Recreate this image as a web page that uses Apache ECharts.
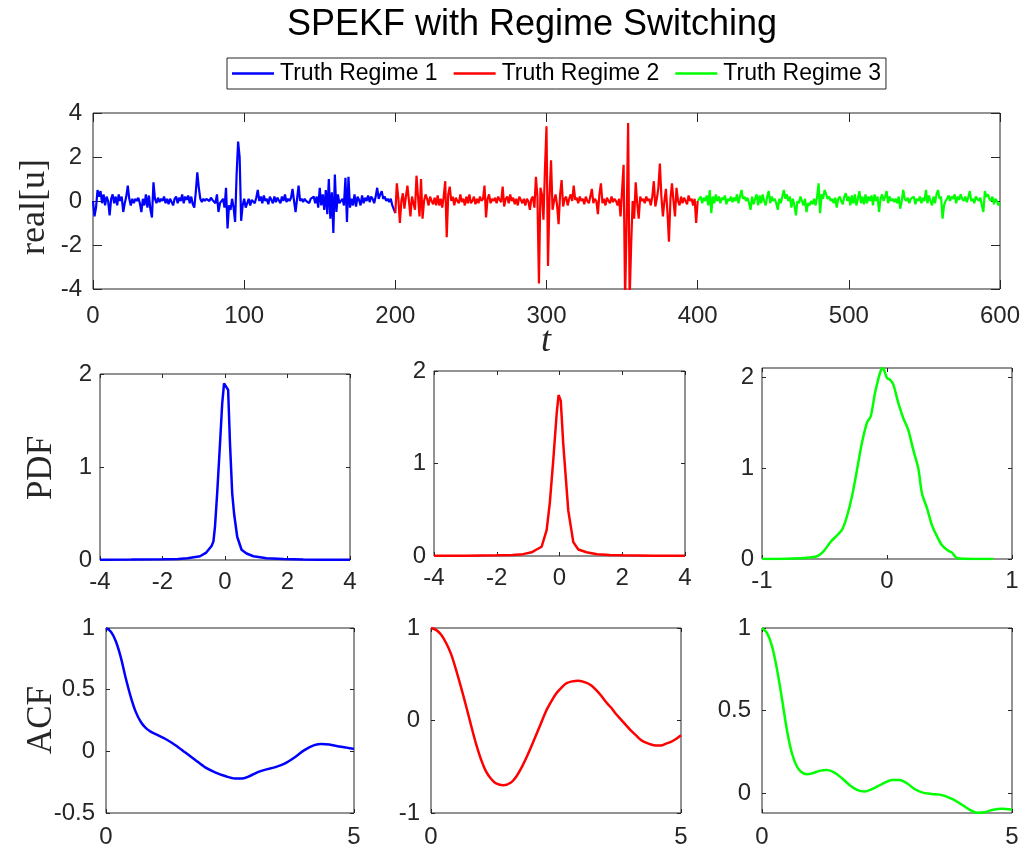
<!DOCTYPE html>
<html><head><meta charset="utf-8">
<script src="https://cdn.jsdelivr.net/npm/echarts@6/dist/echarts.min.js"></script>
<style>html,body{margin:0;padding:0;background:#fff}#c{width:1024px;height:852px}</style>
</head><body><div id="c"></div>
<script>
// ---- Data ----
const titleText = 'SPEKF with Regime Switching';
const legendNames = ['Truth Regime 1', 'Truth Regime 2', 'Truth Regime 3'];
const regimeStart = [0, 200, 400];
const regime1 = [
 0.0,-0.7,-0.3,0.5,0.2,0.45,-0.1,0.3,-0.2,0.2,
 0.0,-0.65,0.1,0.3,-0.1,0.2,-0.2,0.3,0.0,0.2,
 -0.5,-0.1,0.2,0.7,0.1,-0.2,0.1,-0.1,0.1,0.0,
 0.15,-0.1,-0.5,0.1,-0.2,0.3,-0.3,0.25,-0.4,-0.75,
 0.85,0.1,-0.1,0.15,-0.05,0.1,0.0,0.2,-0.1,0.1,
 -0.15,0.1,0.05,-0.2,0.1,0.2,-0.1,0.15,0.0,0.3,
 -0.1,0.2,0.05,0.25,-0.1,0.2,-0.15,-0.3,0.4,1.3,
 0.6,0.1,-0.05,0.1,0.0,0.1,0.05,0.0,0.15,0.05,
 0.1,-0.1,0.3,-0.5,-0.1,0.0,0.1,-0.3,0.6,-1.25,
 -0.2,-0.4,0.1,-0.3,-0.95,1.2,2.7,2.0,-0.9,-0.2,
 0.1,-0.3,-0.25,0.1,-0.2,0.05,0.1,-0.1,0.15,0.5,
 0.0,0.2,-0.1,0.25,0.0,0.1,-0.15,0.2,0.05,-0.1,
 0.2,-0.05,0.15,0.1,-0.1,0.2,0.0,0.3,-0.05,0.1,
 0.0,0.15,0.55,0.0,-0.5,0.1,0.7,0.0,0.1,-0.05,
 0.1,0.0,0.05,-0.1,0.1,0.05,0.2,-0.1,0.2,-0.3,
 0.6,-0.2,0.3,-0.4,0.5,-0.6,1.0,-0.8,0.4,-1.45,
 1.2,-0.5,0.3,-0.1,0.0,0.1,-0.2,1.05,-0.95,1.1,
 -0.3,0.1,-0.2,0.3,-0.25,0.2,0.05,-0.2,0.25,-0.1,
 0.15,0.0,0.25,-0.05,0.2,0.1,-0.1,0.2,0.6,0.1,
 0.3,0.45,0.1,0.2,0.0,0.1,-0.05,0.1,-0.2,-0.2,
 -0.55
];
const regime2 = [
 -0.55,0.8,0.1,-1.0,0.0,0.35,-0.35,0.2,0.7,0.0,
 -0.7,0.2,-0.1,-0.4,1.15,0.2,-0.7,1.0,-0.8,0.0,
 0.3,0.1,-0.2,0.2,0.0,-0.15,0.15,-0.2,0.25,-0.2,
 0.1,-0.3,0.2,0.9,-1.65,0.3,0.65,0.0,0.2,-0.2,
 0.15,0.0,-0.1,0.3,-0.05,0.1,-0.2,0.2,-0.1,0.3,
 -0.1,0.0,0.2,-0.15,0.1,-0.1,0.2,0.0,0.1,0.7,
 -0.75,0.1,0.3,-0.1,0.1,0.0,0.15,-0.1,0.2,0.05,
 -0.05,0.65,-0.25,0.1,0.2,-0.1,0.3,0.0,0.15,-0.15,
 0.1,-0.2,0.2,0.05,-0.1,0.1,-0.2,0.1,0.0,-0.4,
 0.1,0.2,-0.3,1.1,0.2,-3.75,0.6,0.3,-0.85,1.5,
 3.4,-2.95,0.2,1.85,-0.4,0.0,0.3,-0.2,-1.05,0.3,
 0.95,-0.25,0.1,0.2,-0.2,0.1,0.3,0.0,0.7,0.05,
 0.15,-0.1,0.2,0.0,0.1,-0.15,0.2,0.0,-0.1,0.2,
 0.55,-0.1,0.1,0.0,-0.6,0.3,0.8,-0.1,0.1,-0.2,
 0.15,0.0,-0.1,0.2,-0.05,0.1,0.0,-0.2,0.1,-0.7,
 0.5,1.65,-4.5,-1.0,3.55,-4.5,-2.0,0.0,-0.8,0.85,
 -0.1,-0.8,0.2,0.0,0.1,-0.1,0.2,0.0,0.1,-0.2,
 0.2,0.9,-0.25,0.1,0.6,1.7,0.2,-0.7,0.0,0.55,
 -0.5,-1.85,0.1,0.8,0.0,-0.7,0.6,0.0,-0.2,0.2,
 -0.1,0.15,0.1,-0.15,0.25,0.0,0.1,-0.2,0.1,-1.0,
 0.0
];
const regime3 = [
 0.0,0.1,0.2,-0.1,0.15,0.0,0.25,-0.2,0.5,-0.55,
 0.2,-0.1,0.3,0.0,0.2,-0.1,0.15,0.05,0.25,-0.15,
 0.1,0.0,0.2,-0.05,0.15,0.0,0.3,-0.1,0.2,0.5,
 0.1,0.2,0.0,0.15,-0.1,-0.4,0.2,-0.15,0.1,0.3,
 -0.2,0.25,-0.1,0.3,0.0,-0.2,0.2,0.45,-0.1,0.2,
 0.0,0.1,-0.1,-0.4,0.1,-0.1,0.2,0.5,0.1,0.3,
 0.0,0.2,-0.3,0.1,-0.2,-0.65,0.0,-0.1,0.2,0.0,
 -0.2,0.1,-0.5,-0.1,-0.2,0.0,-0.15,0.1,-0.2,0.2,
 0.8,-0.55,0.3,0.1,0.5,0.3,0.1,0.2,0.0,0.1,
 -0.1,0.15,-0.3,0.1,0.2,0.0,-0.15,0.2,0.35,0.0,
 0.2,-0.2,0.25,-0.1,0.3,-0.2,0.1,0.45,-0.1,0.2,
 -0.15,0.3,-0.1,0.2,0.0,0.25,-0.2,0.3,0.0,0.2,
 -0.5,0.1,0.3,0.0,0.2,0.45,-0.1,0.2,0.0,0.1,
 -0.05,0.1,-0.1,0.2,-0.35,0.0,0.5,0.1,0.0,0.15,
 -0.1,0.1,0.05,0.2,-0.15,0.1,0.0,0.2,-0.1,0.15,
 0.0,0.5,-0.1,0.25,0.0,-0.2,0.2,-0.1,0.3,0.5,
 0.1,0.2,-0.8,-0.2,0.0,0.1,0.25,0.0,0.2,0.1,
 0.3,-0.1,0.2,0.05,0.3,0.1,0.0,0.2,-0.05,0.15,
 0.45,0.0,0.1,-0.1,0.2,0.1,0.0,0.15,-0.2,-0.5,
 0.45,0.2,0.3,0.1,0.0,0.2,-0.15,0.1,0.0,-0.2,
 -0.1
];
const topXTicks = [0, 100, 200, 300, 400, 500, 600];
const topYTicks = [-4, -2, 0, 2, 4];

const pdf1X = [-4,-3,-2,-1.5,-1.2,-1.0,-0.8,-0.6,-0.43,-0.37,-0.32,-0.25,-0.16,-0.09,-0.03,0.03,0.1,0.16,0.23,0.29,0.39,0.53,0.69,0.91,1.33,1.87,2.5,3,4];
const pdf1Y = [0.003,0.005,0.008,0.012,0.02,0.03,0.04,0.08,0.15,0.2,0.36,0.72,1.25,1.68,1.90,1.88,1.83,1.25,0.72,0.50,0.25,0.11,0.07,0.04,0.02,0.01,0.006,0.004,0.002];
const pdf2X = [-4,-3,-2,-1.5,-1.16,-0.89,-0.73,-0.57,-0.41,-0.31,-0.2,-0.09,-0.03,0.04,0.12,0.28,0.44,0.6,0.86,1.2,1.6,2,3,4];
const pdf2Y = [0.002,0.004,0.008,0.012,0.02,0.04,0.07,0.10,0.28,0.57,1.03,1.54,1.74,1.68,1.21,0.49,0.15,0.07,0.04,0.02,0.01,0.008,0.004,0.002];
const pdf3X = [-1,-0.8,-0.67,-0.56,-0.51,-0.45,-0.40,-0.36,-0.32,-0.28,-0.24,-0.20,-0.16,-0.13,-0.095,-0.055,-0.033,0,0.025,0.05,0.09,0.13,0.17,0.21,0.25,0.28,0.32,0.36,0.40,0.44,0.49,0.52,0.56,0.69,0.85];
const pdf3Y = [0.0,0.003,0.01,0.03,0.08,0.19,0.26,0.32,0.47,0.69,0.98,1.28,1.50,1.57,1.83,2.05,2.10,1.99,1.97,1.92,1.72,1.55,1.42,1.20,1.0,0.72,0.56,0.37,0.25,0.15,0.09,0.07,0.01,0.0,0.0];
const pdfXTicks12 = [-4, -2, 0, 2, 4];
const pdfXTicks3 = [-1, 0, 1];
const pdfYTicks = [0, 1, 2];

const acf1X = [0,0.1,0.2,0.3,0.4,0.5,0.6,0.7,0.8,0.9,1.0,1.2,1.4,1.6,1.8,2.0,2.2,2.4,2.6,2.75,2.9,3.05,3.2,3.4,3.6,3.8,4.0,4.2,4.35,4.5,4.7,4.85,5];
const acf1Y = [1.0,0.97,0.89,0.76,0.59,0.44,0.32,0.24,0.19,0.16,0.14,0.10,0.05,-0.01,-0.07,-0.13,-0.17,-0.20,-0.22,-0.22,-0.20,-0.17,-0.15,-0.13,-0.10,-0.05,0.01,0.05,0.06,0.055,0.04,0.03,0.02];
const acf2X = [0,0.1,0.2,0.3,0.4,0.5,0.6,0.7,0.8,0.9,1.0,1.1,1.2,1.3,1.45,1.6,1.7,1.8,1.9,2.0,2.1,2.2,2.3,2.4,2.5,2.6,2.7,2.8,2.95,3.1,3.2,3.3,3.4,3.5,3.6,3.7,3.8,3.9,4.0,4.1,4.2,4.3,4.4,4.5,4.6,4.7,4.8,4.9,5];
const acf2Y = [1,0.98,0.93,0.84,0.72,0.55,0.36,0.16,-0.05,-0.25,-0.42,-0.55,-0.63,-0.68,-0.70,-0.67,-0.61,-0.52,-0.41,-0.29,-0.16,-0.03,0.10,0.20,0.29,0.35,0.40,0.42,0.43,0.41,0.38,0.33,0.27,0.20,0.14,0.07,0.01,-0.05,-0.11,-0.16,-0.21,-0.24,-0.26,-0.27,-0.27,-0.25,-0.23,-0.20,-0.16];
const acf3X = [0,0.1,0.2,0.3,0.4,0.5,0.6,0.7,0.8,0.9,1.0,1.15,1.3,1.45,1.6,1.75,1.9,2.05,2.2,2.4,2.6,2.75,2.9,3.05,3.2,3.4,3.6,3.8,4.0,4.15,4.3,4.45,4.6,4.8,5];
const acf3Y = [1.0,0.97,0.89,0.75,0.57,0.38,0.24,0.16,0.125,0.115,0.12,0.135,0.14,0.125,0.09,0.05,0.02,0.01,0.025,0.055,0.08,0.08,0.06,0.025,0.005,-0.005,-0.012,-0.035,-0.07,-0.10,-0.118,-0.115,-0.102,-0.095,-0.10];
const acfXTicks = [0, 5];
const acf1YTicks = [-0.5, 0, 0.5, 1];
const acf2YTicks = [-1, 0, 1];
const acf3YTicks = [0, 0.5, 1];

// ---- Chart ----
const BLUE = '#0000ff', RED = '#ff0000', GREEN = '#00ff00';
const AX = '#262626';
const FONT = '"Liberation Sans", Arial, sans-serif';
const SERIF = '"Liberation Serif", "Times New Roman", serif';

const grids = [
  {left: 93, top: 113, width: 907, height: 176},
  {left: 100, top: 374, width: 250, height: 186},
  {left: 434, top: 371, width: 251, height: 185},
  {left: 762, top: 368, width: 250, height: 191},
  {left: 106, top: 628, width: 248, height: 185},
  {left: 431, top: 628, width: 250, height: 185},
  {left: 762, top: 628, width: 250, height: 185}
];
const specs = [
  {xmin: 0, xmax: 600, xt: topXTicks, ymin: -4, ymax: 4, yt: topYTicks, tl: 9, xm: 15, ym: 11},
  {xmin: -4, xmax: 4, xt: pdfXTicks12, ymin: 0, ymax: 2, yt: pdfYTicks, tl: 4, xm: 10, ym: 8},
  {xmin: -4, xmax: 4, xt: pdfXTicks12, ymin: 0, ymax: 2, yt: pdfYTicks, tl: 4, xm: 10, ym: 8},
  {xmin: -1, xmax: 1, xt: pdfXTicks3, ymin: 0, ymax: 2.1, yt: pdfYTicks, tl: 4, xm: 10, ym: 8},
  {xmin: 0, xmax: 5, xt: acfXTicks, ymin: -0.5, ymax: 1, yt: acf1YTicks, tl: 4, xm: 12, ym: 11},
  {xmin: 0, xmax: 5, xt: acfXTicks, ymin: -1, ymax: 1, yt: acf2YTicks, tl: 4, xm: 12, ym: 11},
  {xmin: 0, xmax: 5, xt: acfXTicks, ymin: -0.12, ymax: 1, yt: acf3YTicks, tl: 4, xm: 12, ym: 11}
];

const xAxis = [], yAxis = [];
specs.forEach((s, i) => {
  const tick = (vals) => ({show: true, inside: true, length: s.tl, customValues: vals, lineStyle: {color: AX, width: 1}});
  const lab = (vals, m) => ({show: true, customValues: vals, fontSize: 24, color: AX, fontFamily: FONT, margin: m});
  const line0 = {show: false, onZero: false};
  xAxis.push({type: 'value', gridIndex: i, position: 'bottom', min: s.xmin, max: s.xmax,
    axisLine: line0, splitLine: {show: false}, axisTick: tick(s.xt), axisLabel: lab(s.xt, s.xm)});
  xAxis.push({type: 'value', gridIndex: i, position: 'top', min: s.xmin, max: s.xmax,
    axisLine: line0, splitLine: {show: false}, axisTick: tick(s.xt), axisLabel: {show: false}});
  yAxis.push({type: 'value', gridIndex: i, position: 'left', min: s.ymin, max: s.ymax,
    axisLine: line0, splitLine: {show: false}, axisTick: tick(s.yt), axisLabel: lab(s.yt, s.ym)});
  yAxis.push({type: 'value', gridIndex: i, position: 'right', min: s.ymin, max: s.ymax,
    axisLine: line0, splitLine: {show: false}, axisTick: tick(s.yt), axisLabel: {show: false}});
});

const pairs = (xs, ys) => xs.map((x, k) => [x, ys[k]]);
const tsPairs = (start, vals) => vals.map((v, k) => [start + k, v]);

function line(name, data, gi, color, w, smooth) {
  return {name, type: 'line', xAxisIndex: 2 * gi, yAxisIndex: 2 * gi, data,
    symbol: 'none', smooth: smooth || false, clip: true,
    lineStyle: {color, width: w}, itemStyle: {color}, emphasis: {disabled: true}};
}

const series = [
  line(legendNames[0], tsPairs(regimeStart[0], regime1), 0, BLUE, 2.2),
  line(legendNames[1], tsPairs(regimeStart[1], regime2), 0, RED, 2.2),
  line(legendNames[2], tsPairs(regimeStart[2], regime3), 0, GREEN, 2.2),
  line('pdf1', pairs(pdf1X, pdf1Y), 1, BLUE, 2.5),
  line('pdf2', pairs(pdf2X, pdf2Y), 2, RED, 2.5),
  line('pdf3', pairs(pdf3X, pdf3Y), 3, GREEN, 2.5, 0.3),
  line('acf1', pairs(acf1X, acf1Y), 4, BLUE, 2.5, 0.3),
  line('acf2', pairs(acf2X, acf2Y), 5, RED, 2.5, 0.3),
  line('acf3', pairs(acf3X, acf3Y), 6, GREEN, 2.5, 0.3)
];

const txt = (text, x, y, font, rot, fill) => ({type: 'text', x, y, rotation: rot || 0, silent: true,
  style: {text, font, fill: fill || AX, align: 'center', verticalAlign: 'middle', textAlign: 'center', textVerticalAlign: 'middle'}});

const option = {
  animation: false,
  backgroundColor: '#ffffff',
  grid: grids.map(g => Object.assign({show: true, borderColor: AX, borderWidth: 1, backgroundColor: 'transparent', containLabel: false}, g)),
  xAxis, yAxis, series,
  legend: {
    data: legendNames.map(n => ({name: n, icon: 'path://M0,0H42V2.5H0Z'})),
    left: 227, top: 58, orient: 'horizontal',
    itemWidth: 42, itemHeight: 24, itemGap: 16, padding: [4, 5, 4, 5],
    borderColor: AX, borderWidth: 1, backgroundColor: '#fff',
    textStyle: {fontSize: 23, color: '#000', fontFamily: FONT, padding: [0, 0, 0, 1]},
    selectedMode: false
  },
  graphic: [
    txt(titleText, 532, 25, '36px ' + FONT, 0, '#000'),
    txt('real[u]', 35, 207, '36px ' + SERIF, Math.PI / 2),
    txt('PDF', 42, 468, '35px ' + SERIF, Math.PI / 2),
    txt('ACF', 42, 720, '35px ' + SERIF, Math.PI / 2),
    txt('t', 546, 342, 'italic 36px ' + SERIF, 0)
  ]
};
const chart = echarts.init(document.getElementById('c'), null, {renderer: 'canvas'});
chart.setOption(option);
</script></body></html>
